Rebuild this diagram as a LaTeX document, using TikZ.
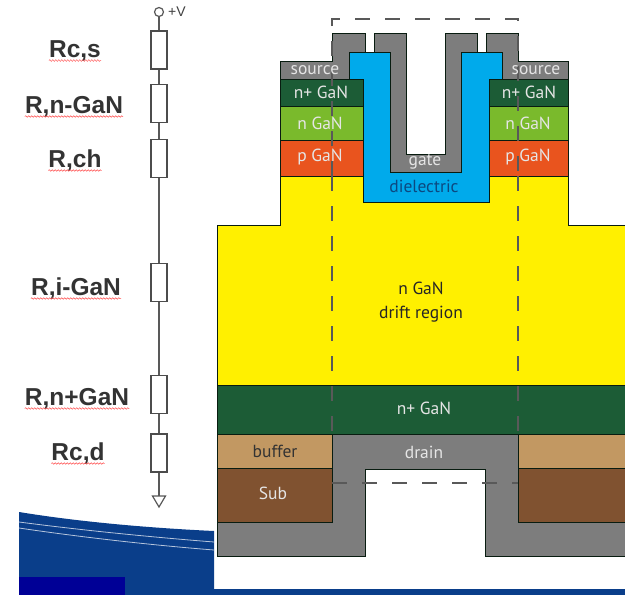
\documentclass[tikz,border=0pt]{standalone}
\usepackage{fontspec}
\setmainfont{Liberation Sans}
\newfontfamily\layerfont{PT Sans}
\usepackage{xcolor}
\usetikzlibrary{calc,decorations.pathmorphing}
\definecolor{metalgray}{RGB}{125,125,125}
\definecolor{nplusgreen}{RGB}{28,92,54}
\definecolor{ngreen}{RGB}{122,186,44}
\definecolor{porange}{RGB}{233,84,30}
\definecolor{driftyellow}{RGB}{255,240,0}
\definecolor{dielblue}{RGB}{0,170,235}
\definecolor{dieltext}{RGB}{12,72,128}
\definecolor{bufferbrown}{RGB}{194,152,98}
\definecolor{subbrown}{RGB}{128,82,48}
\definecolor{slideblue}{RGB}{10,62,138}
\definecolor{slidedark}{RGB}{0,0,150}
\tikzset{
    layer/.style={draw=black!70!nplusgreen, line width=0.9pt},
    layerlabel/.style={font=\layerfont\fontsize{17.5}{24}\selectfont, text=white!90!black, inner sep=0pt},
    resistor/.style={draw=black!70, fill=white, line width=1.1pt, minimum width=16pt, minimum height=38pt, inner sep=0pt},
    wire/.style={draw=black!65, line width=1.2pt},
    rlabel/.style={font=\bfseries\fontsize{24.5}{26}\selectfont, text=black!80, anchor=base, inner sep=0pt},
    squiggle/.style={draw=red!70, line width=0.5pt, decorate, decoration={snake, amplitude=0.8pt, segment length=3pt}},
    cutline/.style={draw=black!65, line width=1.4pt, dash pattern=on 15pt off 15pt}
}
\begin{document}
\begin{tikzpicture}[x=1pt, y=-1pt]
    \useasboundingbox (0,0) rectangle (625,595);

    % slide background
    \fill[slideblue] (19,512) .. controls (80,522) and (150,528) .. (214,531) -- (214,589) -- (625,589) -- (625,595) -- (19,595) -- cycle;
    \fill[slidedark] (19,577) rectangle (125,595);
    \draw[white!70!slideblue, line width=0.8pt] (19,522) .. controls (80,530) and (150,537) .. (214,542);
    \draw[white!70!slideblue, line width=0.8pt] (19,528) .. controls (80,537) and (150,545) .. (214,550);

    % device
    \draw[layer, fill=driftyellow] (280,176) -- (568,176) -- (568,225) -- (625,225) -- (625,385) -- (217,385) -- (217,225) -- (280,225) -- cycle;
    \draw[layer, fill=nplusgreen] (217,385) rectangle (625,434);
    \draw[layer, fill=bufferbrown] (217,434) rectangle (332,468);
    \draw[layer, fill=bufferbrown] (518,434) rectangle (625,468);
    \draw[layer, fill=subbrown] (217,468) rectangle (332,522);
    \draw[layer, fill=subbrown] (518,468) rectangle (625,522);
    \draw[layer, fill=metalgray] (332,434) -- (518,434) -- (518,522) -- (625,522) -- (625,556) -- (485,556) -- (485,469) -- (365,469) -- (365,556) -- (217,556) -- (217,522) -- (332,522) -- cycle;

    \foreach \ya/\yb/\col in {79/106/nplusgreen, 106/140/ngreen, 140/176/porange} {
        \foreach \xa/\xb in {280/363, 489/568} {
            \draw[layer, fill=\col] (\xa,\ya) rectangle (\xb,\yb);
        }
    }
    \draw[layer, fill=metalgray] (280,61) -- (332,61) -- (332,33) -- (365,33) -- (365,52) -- (349,52) -- (349,79) -- (280,79) -- cycle;
    \draw[layer, fill=metalgray] (568,61) -- (518,61) -- (518,33) -- (486,33) -- (486,52) -- (502,52) -- (502,79) -- (568,79) -- cycle;
    \draw[layer, fill=dielblue] (349,52) -- (390,52) -- (390,172) -- (461,172) -- (461,52) -- (502,52) -- (502,79) -- (489,79) -- (489,202) -- (363,202) -- (363,79) -- (349,79) -- cycle;
    \draw[layer, fill=metalgray] (374,33) -- (406,33) -- (406,154) -- (445,154) -- (445,33) -- (477,33) -- (477,52) -- (461,52) -- (461,172) -- (390,172) -- (390,52) -- (374,52) -- cycle;

    \draw[cutline] (332,176) -- (332,19) -- (518,19) -- (518,176);
    \draw[cutline] (332,176) -- (332,434);
    \draw[cutline] (518,176) -- (518,434);
    \draw[cutline] (332,483) -- (518,483);

    % layer names
    \node[layerlabel] (sourceL) at (315,70) {source};
    \node[layerlabel] (sourceR) at (536,70) {source};
    \node[layerlabel] (nplusL) at (321,92) {n+ GaN};
    \node[layerlabel] (nplusR) at (529,92) {n+ GaN};
    \node[layerlabel] (nganL) at (320,123) {n GaN};
    \node[layerlabel] (nganR) at (528,123) {n GaN};
    \node[layerlabel] (pganL) at (320,157) {p GaN};
    \node[layerlabel] (pganR) at (528,157) {p GaN};
    \node[layerlabel] (gate) at (425,162) {gate};
    \node[layerlabel, text=dieltext] (dielectric) at (424,186) {dielectric};
    \node[layerlabel, text=black!85, align=center] (drift) at (421,302) {n GaN\\drift region};
    \node[layerlabel] (nplusB) at (424,408) {n+ GaN};
    \node[layerlabel] (drain) at (424,452) {drain};
    \node[layerlabel, text=black!80] (buffer) at (275,451) {buffer};
    \node[layerlabel] (sub) at (273,493) {Sub};

    % resistor chain
    \node[draw=black!65, line width=1.2pt, circle, minimum size=9pt, inner sep=0pt] (vplus) at (159,12) {};
    \node[font=\fontsize{14}{16}\selectfont, text=black!75, anchor=west, inner sep=0pt] (vlabel) at (168,12) {+V};
    \node[resistor] (rcs) at (159,50) {};
    \node[resistor] (rngan) at (159,103.5) {};
    \node[resistor] (rch) at (159,158.5) {};
    \node[resistor] (rigan) at (159,282.5) {};
    \node[resistor] (rnplus) at (159,394.5) {};
    \node[resistor] (rcd) at (159,453) {};
    \coordinate (gnd) at (159,496);
    \draw[wire] (vplus) -- (rcs);
    \draw[wire] (rcs) -- (rngan);
    \draw[wire] (rngan) -- (rch);
    \draw[wire] (rch) -- (rigan);
    \draw[wire] (rigan) -- (rnplus);
    \draw[wire] (rnplus) -- (rcd);
    \draw[wire] (rcd) -- (gnd);
    \draw[wire, fill=white] (gnd) ++(-6.5,0) -- ++(13,0) -- ++(-6.5,11) -- cycle;

    % labels of the chain
    \node[rlabel] (lrcs) at (75,57) {Rc,s};
    \node[rlabel] (lrngan) at (74,113) {R,n-GaN};
    \node[rlabel] (lrch) at (75,167) {R,ch};
    \node[rlabel] (lrigan) at (76,295) {R,i-GaN};
    \node[rlabel] (lrnplus) at (77,405) {R,n+GaN};
    \node[rlabel] (lrcd) at (78,460) {Rc,d};
    \foreach \n in {lrcs,lrngan,lrch,lrigan,lrnplus,lrcd} {
        \draw[squiggle] ($(\n.base west)+(0,3.5)$) -- ($(\n.base east)+(0,3.5)$);
    }
\end{tikzpicture}
\end{document}
